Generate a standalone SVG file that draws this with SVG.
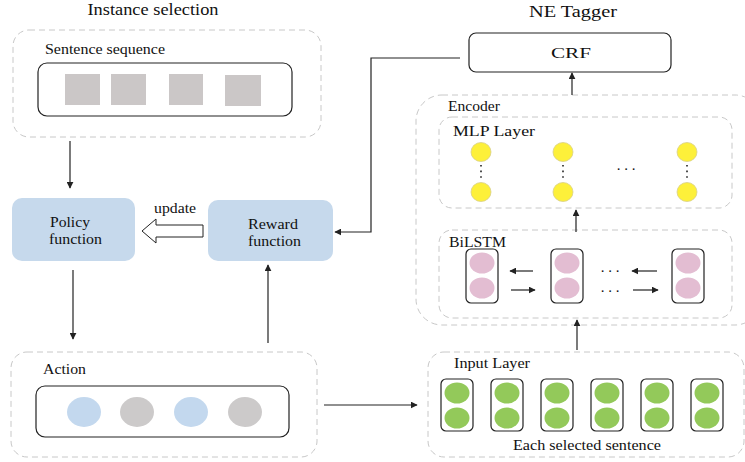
<svg xmlns="http://www.w3.org/2000/svg" width="745" height="462" viewBox="0 0 745 462">
<style>
text{font-family:"Liberation Serif","Times New Roman",serif;fill:#111}
.title{font-size:16.5px}
.lbl{font-size:15px}
.dash{fill:#fff;stroke:#c8c8c8;stroke-width:1;stroke-dasharray:6 4}
.solid{fill:#fff;stroke:#222;stroke-width:1.2}
.blue{fill:#c6d9ec}
.sq{fill:#cbc7c7}
.bc{fill:#c3d8ee}
.gc{fill:#cccaca}
.yc{fill:#fdf03a;stroke:#d8cf8a;stroke-width:0.8}
.pc{fill:#e3bdd2}
.grc{fill:#93c95a}
.line{fill:none;stroke:#222;stroke-width:1.2}
.dots{fill:none;stroke:#222;stroke-width:1.6;stroke-dasharray:1.6 4}
</style>
<defs>
<marker id="ah" viewBox="0 0 10 10" refX="9" refY="5" markerWidth="7" markerHeight="7" orient="auto" markerUnits="userSpaceOnUse">
<path d="M0,0 L10,5 L0,10 z" fill="#222"/>
</marker>
</defs>

<text class="title" x="153" y="15" text-anchor="middle" textLength="131" lengthAdjust="spacingAndGlyphs">Instance selection</text>
<text class="title" x="573" y="17" text-anchor="middle" textLength="88" lengthAdjust="spacingAndGlyphs">NE Tagger</text>

<g id="sentence-sequence">
<rect class="dash" x="13" y="30" width="308" height="107" rx="16"/>
<text class="lbl" x="45" y="54" textLength="120" lengthAdjust="spacingAndGlyphs">Sentence sequence</text>
<rect class="solid" x="38" y="63" width="254" height="53" rx="9"/>
<rect class="sq" x="65" y="74" width="35" height="31"/>
<rect class="sq" x="111" y="74" width="35" height="31"/>
<rect class="sq" x="169" y="74" width="34" height="31"/>
<rect class="sq" x="225" y="75" width="36" height="31"/>
</g>

<g id="policy-function">
<rect class="blue" x="12" y="198" width="123" height="63" rx="10"/>
<text class="lbl" x="70" y="227" text-anchor="middle" textLength="40" lengthAdjust="spacingAndGlyphs">Policy</text>
<text class="lbl" x="75.5" y="244" text-anchor="middle" textLength="53" lengthAdjust="spacingAndGlyphs">function</text>
</g>

<g id="reward-function">
<rect class="blue" x="208" y="200" width="125" height="61" rx="10"/>
<text class="lbl" x="273" y="229" text-anchor="middle" textLength="50" lengthAdjust="spacingAndGlyphs">Reward</text>
<text class="lbl" x="274.5" y="246" text-anchor="middle" textLength="53" lengthAdjust="spacingAndGlyphs">function</text>
</g>

<g id="action">
<rect class="dash" x="11" y="352" width="306" height="105" rx="16"/>
<text class="lbl" x="43" y="374" textLength="43" lengthAdjust="spacingAndGlyphs">Action</text>
<rect class="solid" x="36" y="386" width="253" height="51" rx="9"/>
<ellipse class="bc" cx="84" cy="412" rx="17" ry="15"/>
<ellipse class="gc" cx="137" cy="412" rx="17" ry="15"/>
<ellipse class="bc" cx="191" cy="412" rx="17" ry="15"/>
<ellipse class="gc" cx="245" cy="412" rx="17" ry="15"/>
</g>

<g id="crf">
<rect class="solid" x="469" y="33" width="202" height="39" rx="7"/>
<text class="lbl" x="571" y="58" text-anchor="middle" textLength="40" lengthAdjust="spacingAndGlyphs">CRF</text>
</g>

<g id="encoder">
<rect class="dash" x="416" y="95" width="345" height="230" rx="26"/>
<text class="lbl" x="448" y="111" textLength="52" lengthAdjust="spacingAndGlyphs">Encoder</text>
</g>

<g id="mlp-layer">
<rect class="dash" x="439" y="117" width="293" height="91" rx="13"/>
<text class="lbl" x="453" y="136" textLength="82" lengthAdjust="spacingAndGlyphs">MLP Layer</text>
<ellipse class="yc" cx="481" cy="152" rx="10" ry="9.5"/>
<ellipse class="yc" cx="481" cy="192" rx="10" ry="9.5"/>
<ellipse class="yc" cx="563" cy="152" rx="10" ry="9.5"/>
<ellipse class="yc" cx="563" cy="192" rx="10" ry="9.5"/>
<ellipse class="yc" cx="687" cy="152" rx="10" ry="9.5"/>
<ellipse class="yc" cx="687" cy="192" rx="10" ry="9.5"/>
<line class="dots" x1="481" y1="165" x2="481" y2="181"/>
<line class="dots" x1="563" y1="165" x2="563" y2="181"/>
<line class="dots" x1="687" y1="165" x2="687" y2="181"/>
<text class="lbl" x="626" y="170" text-anchor="middle">. . .</text>
</g>

<g id="bilstm">
<rect class="dash" x="439" y="230" width="293" height="88" rx="13"/>
<text class="lbl" x="449" y="247" textLength="57" lengthAdjust="spacingAndGlyphs">BiLSTM</text>
<rect class="solid" x="466" y="249" width="32" height="54" rx="5"/>
<ellipse class="pc" cx="482" cy="263" rx="12.5" ry="10.5"/>
<ellipse class="pc" cx="482" cy="288" rx="12.5" ry="10.5"/>
<rect class="solid" x="551" y="249" width="32" height="54" rx="5"/>
<ellipse class="pc" cx="567" cy="263" rx="12.5" ry="10.5"/>
<ellipse class="pc" cx="567" cy="288" rx="12.5" ry="10.5"/>
<rect class="solid" x="672" y="249" width="32" height="54" rx="5"/>
<ellipse class="pc" cx="688" cy="263" rx="12.5" ry="10.5"/>
<ellipse class="pc" cx="688" cy="288" rx="12.5" ry="10.5"/>
<text class="lbl" x="610" y="272" text-anchor="middle">. . .</text>
<text class="lbl" x="610" y="292" text-anchor="middle">. . .</text>
</g>

<g id="input-layer">
<rect class="dash" x="428" y="352" width="316" height="105" rx="16"/>
<text class="lbl" x="454" y="368" textLength="76" lengthAdjust="spacingAndGlyphs">Input Layer</text>
<rect class="solid" x="441" y="379" width="32" height="52" rx="5"/>
<ellipse class="grc" cx="457" cy="393" rx="12.5" ry="10.5"/>
<ellipse class="grc" cx="457" cy="418" rx="12.5" ry="10.5"/>
<rect class="solid" x="491" y="379" width="32" height="52" rx="5"/>
<ellipse class="grc" cx="507" cy="393" rx="12.5" ry="10.5"/>
<ellipse class="grc" cx="507" cy="418" rx="12.5" ry="10.5"/>
<rect class="solid" x="541" y="379" width="32" height="52" rx="5"/>
<ellipse class="grc" cx="557" cy="393" rx="12.5" ry="10.5"/>
<ellipse class="grc" cx="557" cy="418" rx="12.5" ry="10.5"/>
<rect class="solid" x="591" y="379" width="32" height="52" rx="5"/>
<ellipse class="grc" cx="607" cy="393" rx="12.5" ry="10.5"/>
<ellipse class="grc" cx="607" cy="418" rx="12.5" ry="10.5"/>
<rect class="solid" x="641" y="379" width="32" height="52" rx="5"/>
<ellipse class="grc" cx="657" cy="393" rx="12.5" ry="10.5"/>
<ellipse class="grc" cx="657" cy="418" rx="12.5" ry="10.5"/>
<rect class="solid" x="691" y="379" width="32" height="52" rx="5"/>
<ellipse class="grc" cx="707" cy="393" rx="12.5" ry="10.5"/>
<ellipse class="grc" cx="707" cy="418" rx="12.5" ry="10.5"/>
<text class="lbl" x="587" y="450" text-anchor="middle" textLength="148" lengthAdjust="spacingAndGlyphs">Each selected sentence</text>
</g>

<g id="connectors">
<line class="line" x1="70" y1="141" x2="70" y2="188" marker-end="url(#ah)"/>
<line class="line" x1="73" y1="270" x2="73" y2="339" marker-end="url(#ah)"/>
<line class="line" x1="268" y1="343" x2="268" y2="265" marker-end="url(#ah)"/>
<line class="line" x1="324" y1="405" x2="417" y2="405" marker-end="url(#ah)"/>
<polyline class="line" points="460,58 371,58 371,232 335,232" marker-end="url(#ah)"/>
<polygon points="203,225 156,225 156,219 142,231 156,243 156,237 203,237" fill="#fff" stroke="#222" stroke-width="1"/>
<text class="lbl" x="175" y="213" text-anchor="middle" textLength="42" lengthAdjust="spacingAndGlyphs">update</text>
<line class="line" x1="572" y1="95" x2="572" y2="73" marker-end="url(#ah)"/>
<line class="line" x1="576" y1="232" x2="576" y2="210" marker-end="url(#ah)"/>
<line class="line" x1="577" y1="350" x2="577" y2="320" marker-end="url(#ah)"/>
<line class="line" x1="533" y1="271" x2="510" y2="271" marker-end="url(#ah)"/>
<line class="line" x1="511" y1="290" x2="535" y2="290" marker-end="url(#ah)"/>
<line class="line" x1="657" y1="271" x2="632" y2="271" marker-end="url(#ah)"/>
<line class="line" x1="633" y1="290" x2="658" y2="290" marker-end="url(#ah)"/>
</g>
</svg>
